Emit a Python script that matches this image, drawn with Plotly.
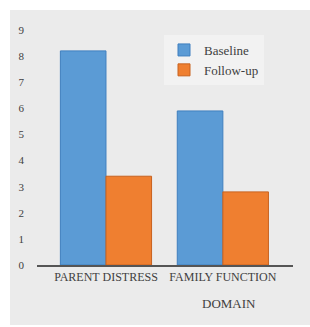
import plotly.graph_objects as go

categories = ["PARENT DISTRESS", "FAMILY FUNCTION"]
baseline = [8.2, 5.9]
follow_up = [3.4, 2.8]
y_ticks = [0, 1, 2, 3, 4, 5, 6, 7, 8, 9]

W, H = 310, 327
L, R, T, B = 37, 310 - 293, 30, 327 - 265
pw, ph = W - L - R, H - T - B


def px(x):
    return (x - L) / pw


def py(y):
    return (H - B - y) / ph


fig = go.Figure()
fig.add_trace(go.Bar(x=categories, y=baseline, name="Baseline",
                     marker=dict(color="#5b9bd5", line=dict(color="#3f7fbf", width=1))))
fig.add_trace(go.Bar(x=categories, y=follow_up, name="Follow-up",
                     marker=dict(color="#ef7f30", line=dict(color="#c8621f", width=1))))

# gray chart background
fig.add_shape(type="rect", xref="paper", yref="paper", layer="below",
              x0=px(10), x1=px(330), y0=py(325), y1=py(10),
              fillcolor="#ebebeb", line=dict(width=0))

fig.add_annotation(text="DOMAIN", xref="paper", yref="paper",
                   x=px(229), y=py(303), xanchor="center", yanchor="middle",
                   showarrow=False,
                   font=dict(family="Liberation Serif", size=13, color="#404040"))

fig.update_layout(
    width=W, height=H,
    margin=dict(l=L, r=R, t=T, b=B),
    paper_bgcolor="white",
    plot_bgcolor="rgba(0,0,0,0)",
    barmode="group", bargap=0.22, bargroupgap=0,
    font=dict(family="Liberation Serif", size=11, color="#404040"),
    showlegend=True,
    legend=dict(x=px(164), y=py(35), xanchor="left", yanchor="top",
                bgcolor="rgba(255,255,255,0.35)", borderwidth=0,
                font=dict(family="Liberation Serif", size=13, color="#404040"),
                itemwidth=30, tracegroupgap=0),
    xaxis=dict(range=[-0.59, 1.6], showgrid=False, showline=True,
               linecolor="#555555", linewidth=1.5, tickangle=0,
               ticks="", tickfont=dict(size=12), zeroline=False),
    yaxis=dict(range=[0, 9], tickvals=y_ticks, showgrid=False, zeroline=False,
               showline=False, ticks="", ticklabelstandoff=12,
               tickfont=dict(size=11)),
)

fig.write_html("out.html", config={"displayModeBar": False},
               post_script="document.body.style.margin='0';"
                           "document.body.style.overflow='hidden';"
                           "document.documentElement.style.background='#ebebeb';")
